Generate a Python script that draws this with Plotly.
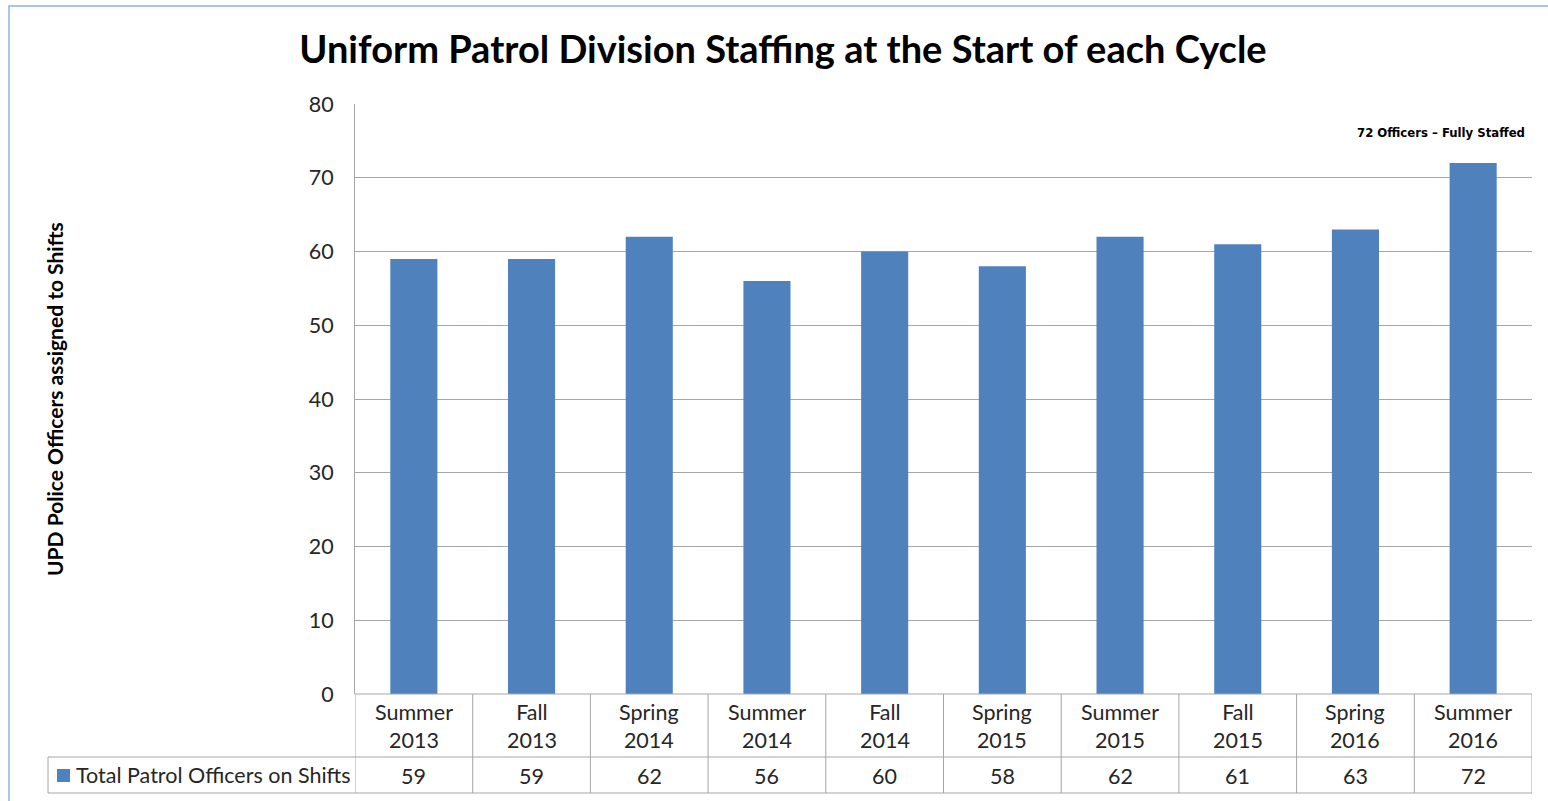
import plotly.graph_objects as go

# Staffing at the start of each cycle
seasons = ["Summer", "Fall", "Spring", "Summer", "Fall", "Spring", "Summer", "Fall", "Spring", "Summer"]
years = ["2013", "2013", "2014", "2014", "2014", "2015", "2015", "2015", "2016", "2016"]
officers = [59, 59, 62, 56, 60, 58, 62, 61, 63, 72]
series_name = "Total Patrol Officers on Shifts"
y_ticks = [0, 10, 20, 30, 40, 50, 60, 70, 80]

cycles = [f"{s} {y}" for s, y in zip(seasons, years)]

BAR = "#4F81BD"
GRID = "#A6A6A6"
FONT = "Lato, Carlito, Calibri, sans-serif"
TXT = 21.5

W, H = 1548, 801
L, R, T, B = 355, 1532, 104, 694

def py(pix):
    """Pixel row -> paper y."""
    return (B - pix) / (B - T)

def px(pix):
    """Pixel column -> paper x."""
    return (pix - L) / (R - L)

fig = go.Figure()
fig.add_trace(go.Bar(
    x=cycles, y=officers, marker=dict(color=BAR, line=dict(width=0)),
    name=series_name, showlegend=False, hoverinfo="x+y",
))

row1_bot = py(757)
row2_bot = py(793)
shapes = []
# vertical separators of the data table
for i in range(len(cycles) + 1):
    shapes.append(dict(type="line", xref="x", yref="paper", x0=i - 0.5, x1=i - 0.5,
                       y0=0, y1=row2_bot, line=dict(color=GRID, width=1)))
# horizontal rules of the data table
shapes.append(dict(type="line", xref="paper", yref="paper", x0=px(48), x1=1,
                   y0=row1_bot, y1=row1_bot, line=dict(color=GRID, width=1)))
shapes.append(dict(type="line", xref="paper", yref="paper", x0=px(48), x1=1,
                   y0=row2_bot, y1=row2_bot, line=dict(color=GRID, width=1)))
shapes.append(dict(type="line", xref="paper", yref="paper", x0=0, x1=1,
                   y0=0, y1=0, line=dict(color=GRID, width=1)))
shapes.append(dict(type="line", xref="paper", yref="paper", x0=px(48), x1=px(48),
                   y0=row1_bot, y1=row2_bot, line=dict(color=GRID, width=1)))
# legend key
shapes.append(dict(type="rect", xref="paper", yref="paper", x0=px(57), x1=px(70),
                   y0=py(782), y1=py(769), fillcolor=BAR, line=dict(width=0)))
# outer chart frame
shapes.append(dict(type="rect", xref="paper", yref="paper", x0=px(9), x1=px(1560),
                   y0=py(815), y1=py(6), line=dict(color="#8DB3E2", width=1.5)))

annotations = []
for c, s, yr, v in zip(cycles, seasons, years, officers):
    annotations.append(dict(x=c, xref="x", y=py(726), yref="paper", text=f"{s}<br>{yr}",
                            showarrow=False, font=dict(family=FONT, size=TXT, color="#262626"),
                            align="center", yanchor="middle"))
    annotations.append(dict(x=c, xref="x", y=py(776), yref="paper", text=str(v),
                            showarrow=False, font=dict(family=FONT, size=TXT, color="#262626"),
                            yanchor="middle"))
annotations.append(dict(x=px(74), xref="paper", y=py(775), yref="paper", text=series_name,
                        showarrow=False, xanchor="left", yanchor="middle",
                        font=dict(family=FONT, size=TXT, color="#262626")))
annotations.append(dict(x=px(1527), xref="paper", y=py(132), yref="paper",
                        text="<b>72 Officers – Fully Staffed</b>", showarrow=False,
                        xanchor="right", yanchor="middle",
                        font=dict(family="DejaVu Sans Condensed, Liberation Sans Narrow, sans-serif",
                                  size=13, color="#000000")))
annotations.append(dict(x=px(54), xref="paper", y=py(399), yref="paper",
                        text="<b>UPD Police Officers assigned to Shifts</b>", textangle=-90,
                        showarrow=False, xanchor="center", yanchor="middle",
                        font=dict(family=FONT, size=21, color="#000000")))

fig.update_layout(
    width=W, height=H,
    margin=dict(l=L, r=W - R, t=T, b=H - B, pad=0),
    paper_bgcolor="white", plot_bgcolor="white",
    bargap=0.6,
    title=dict(text="<b>Uniform Patrol Division Staffing at the Start of each Cycle</b>",
               xref="container", x=783 / W, xanchor="center",
               yref="container", y=1 - 50 / H, yanchor="middle",
               font=dict(family=FONT, size=38, color="#000000")),
    xaxis=dict(range=[-0.5, len(cycles) - 0.5], showticklabels=False, showgrid=False,
               zeroline=False, showline=False, ticks=""),
    yaxis=dict(range=[0, 80], tickvals=y_ticks, showgrid=True, gridcolor=GRID, gridwidth=1,
               zeroline=False, showline=True, linecolor=GRID, linewidth=1, ticks="",
               ticklabelstandoff=16,
               tickfont=dict(family=FONT, size=TXT, color="#262626")),
    shapes=shapes, annotations=annotations,
)

fig.write_html("out.html")
